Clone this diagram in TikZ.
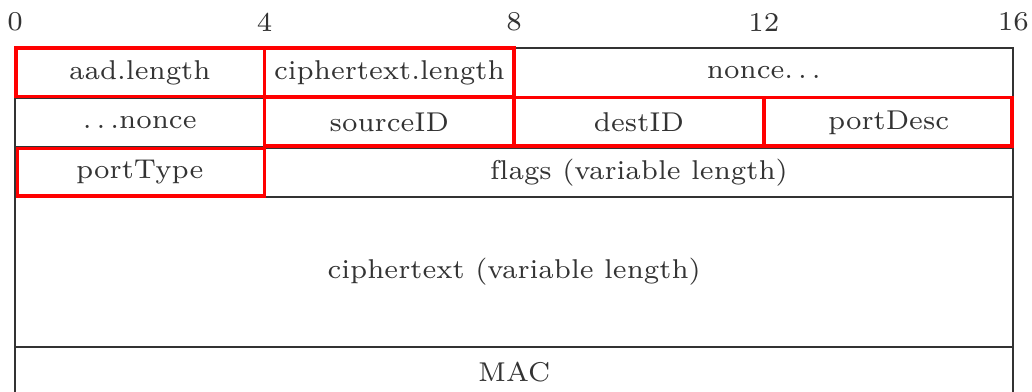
\documentclass[tikz,border=0pt]{standalone}
\usepackage{fontspec}
\newfontfamily\smallrm{lmroman7-regular.otf}[Ligatures=NoCommon]
\begin{document}
\begin{tikzpicture}[x=0.34pt,y=-0.34pt,
  grid/.style={draw=black!80,line width=0.7pt},
  redbox/.style={draw=red,line width=1.25pt},
  lbl/.style={text=black!80,font=\smallrm\fontsize{9.25}{11}\selectfont,inner sep=0pt},
  num/.style={text=black!80,font=\smallrm\fontsize{9.25}{11}\selectfont,inner sep=0pt}]
\clip (0,0) rectangle (1032,392);
\fill[white] (0,0) rectangle (1032,392);
% bit positions
\def\xa{15}\def\xb{264.6}\def\xc{514.2}\def\xd{763.8}\def\xe{1013.4}
\def\ya{48}\def\yb{97.5}\def\yc{147.5}\def\yd{197}\def\ye{347}\def\yf{440}
\def\dots{.\kern0.18em.\kern0.18em.}
% scale labels
\node[num] (n0) at (\xa,22) {0};
\node[num] (n4) at (\xb,22) {4};
\node[num] (n8) at (\xc,22) {8};
\node[num] (n12) at (\xd,22) {12};
\node[num] (n16) at (\xe,22) {16};
% grid
\draw[grid] (\xa,\yf) -- (\xa,\ya) -- (\xe,\ya) -- (\xe,\yf);
\draw[grid] (\xa,\yb) -- (\xe,\yb);
\draw[grid] (\xa,\yc) -- (\xe,\yc);
\draw[grid] (\xa,\yd) -- (\xe,\yd);
\draw[grid] (\xa,\ye) -- (\xe,\ye);
\draw[grid] (\xb,\ya) -- (\xb,\yb) (\xc,\ya) -- (\xc,\yb);
\draw[grid] (\xb,\yb) -- (\xb,\yc) (\xc,\yb) -- (\xc,\yc) (\xd,\yb) -- (\xd,\yc);
\draw[grid] (\xb,\yc) -- (\xb,\yd);
% red highlighted fields
\draw[redbox] (\xa+1,\ya) rectangle (\xb,\yb-1);
\draw[redbox] (\xb,\ya) rectangle (\xc,\yb-1);
\draw[redbox] (\xb,\yb) rectangle (\xc,\yc-1.5);
\draw[redbox] (\xc,\yb) rectangle (\xd,\yc-1.5);
\draw[redbox] (\xd,\yb) rectangle (\xe-1.5,\yc-1.5);
\draw[redbox] (\xa+2.5,\yc+1) rectangle (\xb,\yd-1);
% labels
\node[lbl] (aad) at ({(\xa+\xb)/2},{(\ya+\yb)/2}) {aad.length};
\node[lbl] (ctl) at ({(\xb+\xc)/2},{(\ya+\yb)/2}) {ciphertext.length};
\node[lbl] (nonceA) at ({(\xc+\xe)/2},{(\ya+\yb)/2}) {nonce\dots};
\node[lbl] (nonceB) at ({(\xa+\xb)/2},{(\yb+\yc)/2}) {\dots nonce};
\node[lbl] (src) at ({(\xb+\xc)/2},{(\yb+\yc)/2}) {sourceID};
\node[lbl] (dst) at ({(\xc+\xd)/2},{(\yb+\yc)/2}) {destID};
\node[lbl] (pdesc) at ({(\xd+\xe)/2},{(\yb+\yc)/2}) {portDesc};
\node[lbl] (ptype) at ({(\xa+\xb)/2},{(\yc+\yd)/2}) {portType};
\node[lbl] (flags) at ({(\xb+\xe)/2},{(\yc+\yd)/2}) {flags (variable length)};
\node[lbl] (ct) at ({(\xa+\xe)/2},{(\yd+\ye)/2}) {ciphertext (variable length)};
\node[lbl] (mac) at ({(\xa+\xe)/2},372) {MAC};
\end{tikzpicture}
\end{document}
